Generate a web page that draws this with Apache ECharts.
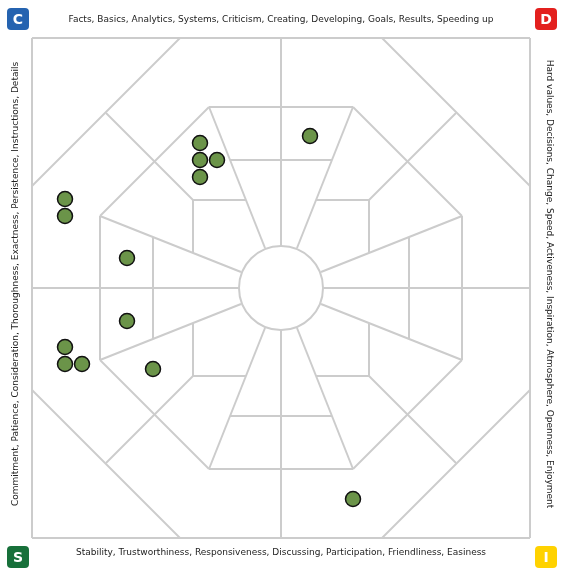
<!DOCTYPE html>
<html>
<head>
<meta charset="utf-8">
<script src="https://cdn.jsdelivr.net/npm/echarts@6/dist/echarts.min.js"></script>
<style>html,body{margin:0;padding:0;background:#fff}#chart{width:564px;height:575px}</style>
</head>
<body>
<div id="chart"></div>
<script>
const CENTER = [281, 288];
const HUB_RADIUS = 42;
// one quadrant of the wheel (offsets from centre), mirrored into the other three
const quadrantSegments = [
    [[-249, -250], [0, -250]], [[-249, -250], [-249, 0]],
    [[0, -250], [0, -42]], [[-249, 0], [-42, 0]],
    [[-72, -181], [0, -181]], [[-181, -72], [-181, 0]], [[-181, -72], [-72, -181]],
    [[-72, -181], [-16, -40]], [[-181, -72], [-40, -16]],
    [[-51, -128], [0, -128]], [[-128, -51], [-128, 0]],
    [[-88, -88], [-35, -88]], [[-88, -88], [-88, -35]],
    [[-101, -250], [-249, -102]], [[-175, -175], [-88, -88]]
];
const points = [
    [200, 143], [200, 160], [217, 160], [200, 177], [310, 136],
    [65, 199], [65, 216], [127, 258], [127, 321],
    [65, 347], [65, 364], [82, 364], [153, 369], [353, 499]
];
const topLabel = 'Facts, Basics, Analytics, Systems, Criticism, Creating, Developing, Goals, Results, Speeding up';
const rightLabel = 'Hard values, Decisions, Change, Speed, Activeness, Inspiration, Atmosphere, Openness, Enjoyment';
const bottomLabel = 'Stability, Trustworthiness, Responsiveness, Discussing, Participation, Friendliness, Easiness';
const leftLabel = 'Commitment, Patience, Consideration, Thoroughness, Exactness, Persistence, Instructions, Details';
const badges = [
    { letter: 'C', color: '#2563b0', x: 18, y: 19 },
    { letter: 'D', color: '#e3201e', x: 546, y: 19 },
    { letter: 'S', color: '#17703a', x: 18, y: 557 },
    { letter: 'I', color: '#ffd200', x: 546, y: 557 }
];

const lineData = [];
[[1, 1], [-1, 1], [1, -1], [-1, -1]].forEach(([sx, sy]) => {
    quadrantSegments.forEach(([a, b]) => {
        lineData.push({ coords: [
            [CENTER[0] + sx * a[0], CENTER[1] + sy * a[1]],
            [CENTER[0] + sx * b[0], CENTER[1] + sy * b[1]]
        ] });
    });
});

const font = 'Verdana, "DejaVu Sans", sans-serif';
const textStyle = { fontFamily: font, fontSize: 9, fill: '#222' };

const chart = echarts.init(document.getElementById('chart'));
chart.setOption({
    animation: false,
    grid: { left: 0, right: 0, top: 0, bottom: 0 },
    xAxis: { type: 'value', min: 0, max: 564, show: false },
    yAxis: { type: 'value', min: 0, max: 575, inverse: true, show: false },
    series: [
        {
            type: 'lines',
            coordinateSystem: 'cartesian2d',
            data: lineData,
            lineStyle: { color: '#cccccc', width: 2, opacity: 1 },
            silent: true,
            z: 1
        },
        {
            type: 'scatter',
            data: [CENTER],
            symbolSize: HUB_RADIUS * 2,
            itemStyle: { color: '#fff', borderColor: '#cccccc', borderWidth: 2, opacity: 1 },
            silent: true,
            z: 2
        },
        {
            type: 'scatter',
            data: points,
            symbolSize: 15,
            itemStyle: { color: '#6b9449', borderColor: '#111', borderWidth: 1.5, opacity: 1 },
            z: 3
        }
    ],
    graphic: [
        { type: 'text', x: 281, y: 20, style: { ...textStyle, text: topLabel, align: 'center', verticalAlign: 'middle' } },
        { type: 'text', x: 281, y: 553, style: { ...textStyle, text: bottomLabel, align: 'center', verticalAlign: 'middle' } },
        { type: 'text', x: 16, y: 284, rotation: Math.PI / 2, style: { ...textStyle, text: leftLabel, align: 'center', verticalAlign: 'middle' } },
        { type: 'text', x: 549, y: 284, rotation: -Math.PI / 2, style: { ...textStyle, text: rightLabel, align: 'center', verticalAlign: 'middle' } },
        ...badges.flatMap(b => [
            { type: 'rect', x: b.x - 11, y: b.y - 11, shape: { width: 22, height: 22, r: 4 }, style: { fill: b.color } },
            { type: 'text', x: b.x, y: b.y + 1, style: { text: b.letter, fontFamily: font, fontSize: 14, fontWeight: 'bold', fill: '#fff', align: 'center', verticalAlign: 'middle' } }
        ])
    ]
});
</script>
</body>
</html>
